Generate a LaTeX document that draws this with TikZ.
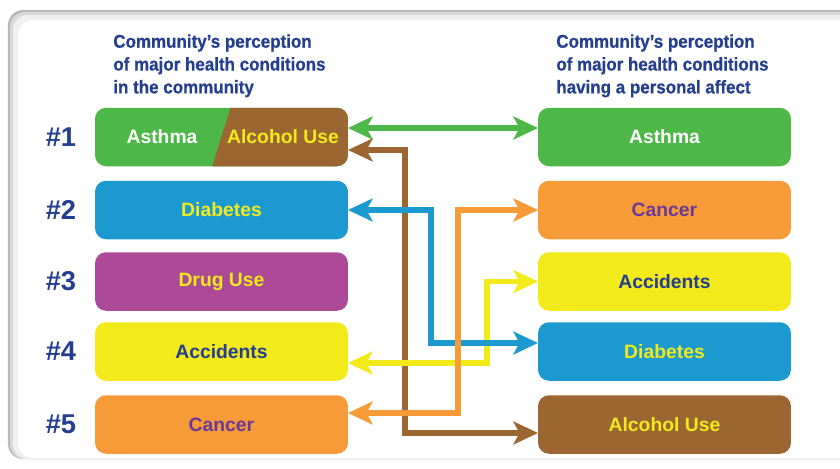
\documentclass[tikz,border=0pt]{standalone}
\usepackage{fontspec}
\setmainfont{Liberation Sans}
\newfontfamily\titlefont[FakeStretch=0.92,FakeBold=0.6]{Liberation Sans}
\usetikzlibrary{arrows.meta}
\definecolor{navy}{HTML}{243E90}
\definecolor{cgreen}{HTML}{4DB848}
\definecolor{cbrown}{HTML}{9B6631}
\definecolor{cblue}{HTML}{1C9AD0}
\definecolor{cpurple}{HTML}{AD4A98}
\definecolor{cyellow}{HTML}{F2EA1B}
\definecolor{corange}{HTML}{F79A38}
\definecolor{cviolet}{HTML}{6B3A99}
\begin{document}
\begin{tikzpicture}[x=0.02cm, y=-0.02cm,
  box/.style={rounded corners=0.22cm, minimum width=5.06cm, minimum height=1.17cm, inner sep=0pt, outer sep=0pt, font=\bfseries\fontsize{11}{13}\selectfont},
  rank/.style={font=\bfseries\fontsize{15.5}{18}\selectfont, text=navy},
  heading/.style={anchor=north west, align=left, inner sep=0pt, text=navy, font=\titlefont\bfseries\fontsize{10.5}{13}\selectfont},
  link/.style={line width=3.2pt, {Stealth[length=14pt,width=13pt,inset=3.5pt]}-{Stealth[length=14pt,width=13pt,inset=3.5pt]}}]
\useasboundingbox (0,0) rectangle (840,468);
\clip (0,0) rectangle (840,468);
\fill[gray!55, rounded corners=0.3cm] (8,10) rectangle (900,459);
\fill[gray!30, rounded corners=0.3cm] (10,12) rectangle (900,459);
\fill[gray!12, rounded corners=0.3cm] (13,15) rectangle (900,459);
\fill[white, rounded corners=0.3cm] (18,20) rectangle (900,458);

\node[heading] (tl) at (113,34) {Community’s perception\\of major health conditions\\in the community};
\node[heading] (tr) at (556,34) {Community’s perception\\of major health conditions\\having a personal affect};

\node[rank] (n1) at (61,137) {\#1};
\node[rank] (n2) at (61,210) {\#2};
\node[rank] (n3) at (61,281.5) {\#3};
\node[rank] (n4) at (61,351.5) {\#4};
\node[rank] (n5) at (61,424.5) {\#5};

\node[box, fill=cgreen] (l1) at (221.5,137) {};
\begin{scope}
\clip[rounded corners=0.22cm] (l1.north west) rectangle (l1.south east);
\fill[cbrown] (233,100) -- (360,100) -- (360,170) -- (211,170) -- cycle;
\end{scope}
\node[font=\bfseries\fontsize{11}{13}\selectfont, text=white] (l1a) at (162,137) {Asthma};
\node[font=\bfseries\fontsize{11}{13}\selectfont, text=cyellow] (l1b) at (283,137) {Alcohol Use};
\node[box, fill=cblue, text=cyellow] (l2) at (221.5,210) {Diabetes};
\node[box, fill=cpurple, text=cyellow] (l3) at (221.5,281.5) {Drug Use};
\node[box, fill=cyellow, text=navy] (l4) at (221.5,351.5) {Accidents};
\node[box, fill=corange, text=cviolet] (l5) at (221.5,424.5) {Cancer};

\node[box, fill=cgreen, text=white] (r1) at (664.5,137) {Asthma};
\node[box, fill=corange, text=cviolet] (r2) at (664.5,210) {Cancer};
\node[box, fill=cyellow, text=navy] (r3) at (664.5,281.5) {Accidents};
\node[box, fill=cblue, text=cyellow] (r4) at (664.5,351.5) {Diabetes};
\node[box, fill=cbrown, text=cyellow] (r5) at (664.5,424.5) {Alcohol Use};

\coordinate (kb) at (405,0);
\coordinate (ky) at (487,0);
\coordinate (kc) at (431,0);
\coordinate (ko) at (458,0);
\coordinate (r5w) at ([yshift=-0.17cm]r5.west);
\coordinate (r4w) at ([yshift=0.17cm]r4.west);
\coordinate (l4e) at ([yshift=-0.23cm]l4.east);
\coordinate (l5e) at ([yshift=0.23cm]l5.east);

\draw[link, cbrown] ([yshift=-0.26cm]l1.east) -| (kb |- r5w) -- (r5w);
\draw[link, cyellow] (r3.west) -| (ky |- l4e) -- (l4e);
\draw[link, cblue] (l2.east) -| (kc |- r4w) -- (r4w);
\draw[link, corange] (r2.west) -| (ko |- l5e) -- (l5e);
\draw[link, cgreen] ([yshift=0.18cm]l1.east) -- ([yshift=0.18cm]r1.west);
\end{tikzpicture}
\end{document}
